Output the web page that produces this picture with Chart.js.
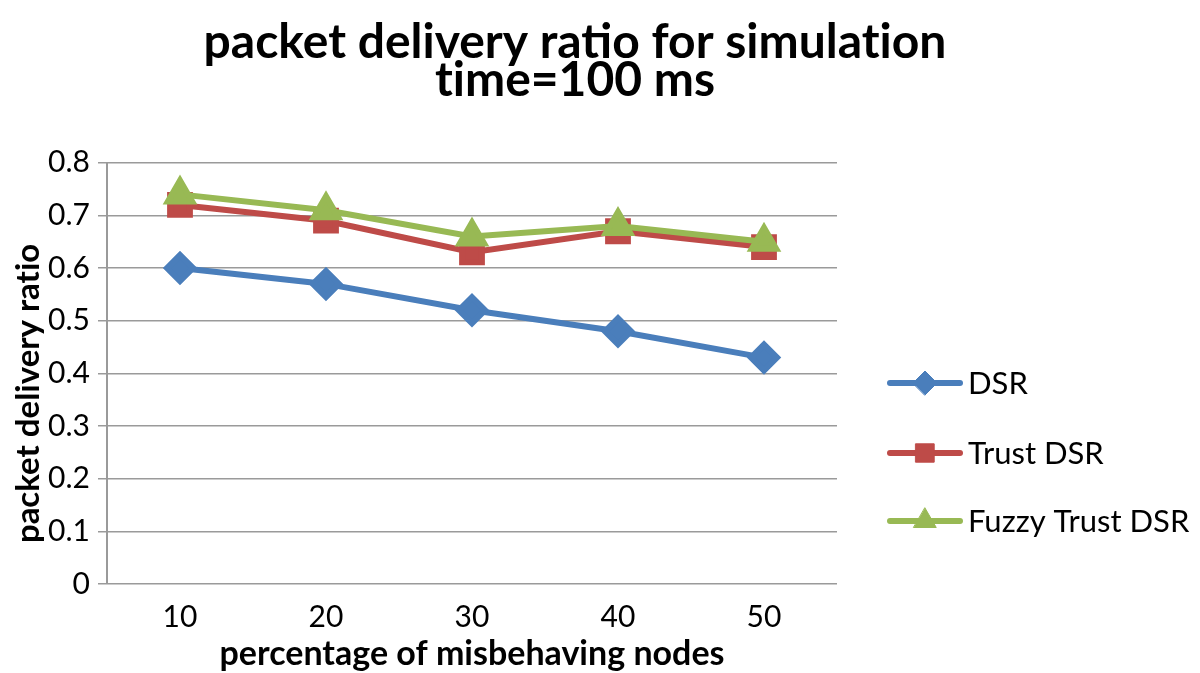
<html lang="en">
<head>
    <meta charset="UTF-8">
    <title>packet delivery ratio</title>
    <script src="https://cdn.jsdelivr.net/npm/chart.js"></script>
    <style>
        body { margin: 0; background: #fff; }
        #wrap { width: 1200px; height: 673px; }
    </style>
</head>
<body>
    <div id="wrap"><canvas id="pdrChart" width="1200" height="673"></canvas></div>

    <script>
        const categories = ['10', '20', '30', '40', '50'];
        const dsrValues = [0.60, 0.57, 0.52, 0.48, 0.43];
        const trustValues = [0.72, 0.69, 0.63, 0.67, 0.64];
        const fuzzyValues = [0.74, 0.71, 0.66, 0.68, 0.65];
        const seriesNames = ['DSR', 'Trust DSR', 'Fuzzy Trust DSR'];

        const FONT = 'Lato, "Open Sans", sans-serif';

        // legend drawn like Excel: short line with the marker in the middle
        const sideLegend = {
            id: 'sideLegend',
            afterDraw(chart) {
                const ctx = chart.ctx;
                const rows = [383, 453, 521];
                chart.data.datasets.forEach((ds, i) => {
                    const y = rows[i];
                    ctx.save();
                    ctx.strokeStyle = ds.borderColor;
                    ctx.lineWidth = ds.borderWidth;
                    ctx.lineCap = 'round';
                    ctx.beginPath();
                    ctx.moveTo(890, y);
                    ctx.lineTo(960, y);
                    ctx.stroke();
                    ctx.fillStyle = ds.pointBackgroundColor;
                    ctx.strokeStyle = ds.pointBackgroundColor;
                    ctx.lineWidth = 1;
                    Chart.helpers.drawPoint(ctx, {
                        pointStyle: ds.pointStyle,
                        radius: ds.pointRadius - 1,
                        rotation: 0,
                        borderWidth: 1
                    }, 925, y);
                    ctx.fillStyle = '#000';
                    ctx.font = '31px ' + FONT;
                    ctx.textBaseline = 'middle';
                    ctx.textAlign = 'left';
                    ctx.fillText(ds.label, 968, y + 1);
                    ctx.restore();
                });
            }
        };

        const ctx = document.getElementById('pdrChart').getContext('2d');
        new Chart(ctx, {
            type: 'line',
            data: {
                labels: categories,
                datasets: [{
                    label: seriesNames[0],
                    data: dsrValues,
                    borderColor: '#4A7EBB',
                    pointBackgroundColor: '#4A7EBB',
                    pointBorderColor: '#4A7EBB',
                    pointStyle: 'rectRot',
                    pointRadius: 13,
                    borderWidth: 6,
                    order: 3
                }, {
                    label: seriesNames[1],
                    data: trustValues,
                    borderColor: '#BE4B48',
                    pointBackgroundColor: '#BE4B48',
                    pointBorderColor: '#BE4B48',
                    pointStyle: 'rect',
                    pointRadius: 14,
                    borderWidth: 6,
                    order: 2
                }, {
                    label: seriesNames[2],
                    data: fuzzyValues,
                    borderColor: '#98B954',
                    pointBackgroundColor: '#98B954',
                    pointBorderColor: '#98B954',
                    pointStyle: 'triangle',
                    pointRadius: 14,
                    borderWidth: 6,
                    order: 1
                }]
            },
            options: {
                responsive: false,
                animation: false,
                layout: { padding: { top: 0, right: 50, bottom: 0, left: 0 } },
                plugins: {
                    legend: { display: false },
                    tooltip: { enabled: false },
                    title: {
                        display: true,
                        // \u200C keeps Lato from joining "ti" into a ligature
                        text: ['packet delivery ratio for simulat\u200Cion', 't\u200Cime=100 ms'],
                        color: '#000',
                        font: { family: FONT, size: 48, weight: 'bold', lineHeight: 0.8 },
                        padding: { top: 23, bottom: 63 }
                    }
                },
                scales: {
                    x: {
                        offset: true,
                        grid: { display: false },
                        border: { display: false },
                        ticks: { color: '#000', font: { family: FONT, size: 30 }, padding: 7 },
                        title: {
                            display: true,
                            text: 'percentage of misbehaving nodes',
                            color: '#000',
                            font: { family: FONT, size: 34, weight: 'bold', lineHeight: 1.0 },
                            padding: { top: 2, bottom: 2 }
                        },
                        afterFit(scale) { scale.height = 89; }
                    },
                    y: {
                        min: 0,
                        max: 0.8,
                        ticks: {
                            stepSize: 0.1,
                            color: '#000',
                            padding: 8,
                            font: { family: FONT, size: 30 },
                            callback: v => Math.round(v * 10) / 10
                        },
                        grid: { color: '#9a9a9a', lineWidth: 1.5, tickLength: 9 },
                        border: { color: '#9a9a9a', width: 2 },
                        title: {
                            display: true,
                            text: 'packet delivery rat\u200Cio     ',
                            color: '#000',
                            font: { family: FONT, size: 33, weight: 'bold', lineHeight: 1.0 },
                            padding: { top: 12, bottom: 0 }
                        },
                        afterFit(scale) { scale.width = 107; }
                    },
                    // empty right-hand scale that reserves the room used by the legend
                    legendSpace: {
                        type: 'linear',
                        position: 'right',
                        display: true,
                        grid: { display: false, drawTicks: false },
                        border: { display: false },
                        ticks: { display: false },
                        afterFit(scale) { scale.width = 313; }
                    }
                }
            },
            plugins: [sideLegend]
        });
    </script>
</body>
</html>
